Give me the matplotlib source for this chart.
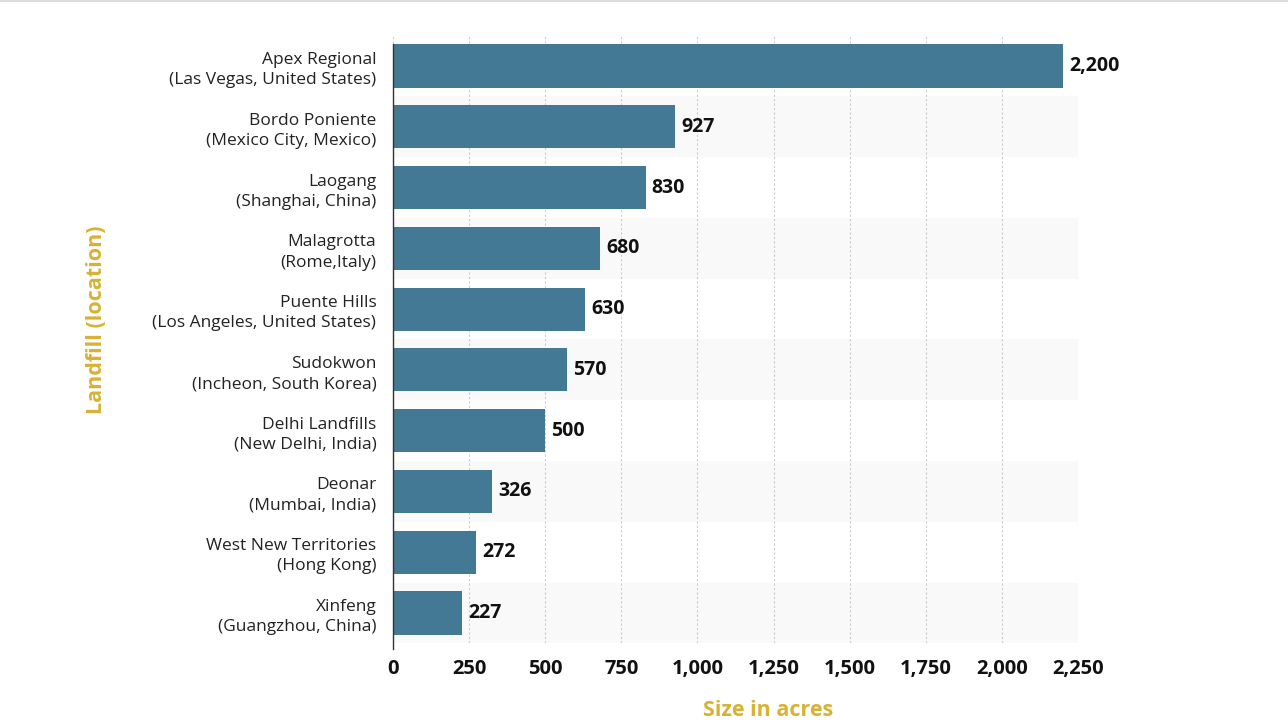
import matplotlib.pyplot as plt
import matplotlib.ticker as ticker
from matplotlib.lines import Line2D

names = ["Apex Regional\n(Las Vegas, United States)",
         "Bordo Poniente\n(Mexico City, Mexico)",
         "Laogang\n(Shanghai, China)",
         "Malagrotta\n(Rome,Italy)",
         "Puente Hills\n(Los Angeles, United States)",
         "Sudokwon\n(Incheon, South Korea)",
         "Delhi Landfills\n(New Delhi, India)",
         "Deonar\n(Mumbai, India)",
         "West New Territories\n(Hong Kong)",
         "Xinfeng\n(Guangzhou, China)"]
acres = [2200, 927, 830, 680, 630, 570, 500, 326, 272, 227]
xticks = [0, 250, 500, 750, 1000, 1250, 1500, 1750, 2000, 2250]

bar_color = '#437994'
gold = '#d8b234'
fam = 'Open Sans'

fig = plt.figure(figsize=(12.88, 7.26), dpi=100)
ax = fig.add_axes([0.3051, 0.1138, 0.8370 - 0.3051, 0.951 - 0.1138])

n = len(names)
pos = list(range(n))

# alternating row bands
for i in pos:
    if i % 2 == 1:
        ax.axhspan(i - 0.5, i + 0.5, color='#f9f9f9', zorder=0, lw=0)

ax.barh(pos, acres, height=0.71, color=bar_color, zorder=3)
for i, v in zip(pos, acres):
    ax.text(v + 20, i, f"{v:,}", va='center', ha='left', fontsize=14,
            fontweight='bold', family=fam, color='#111111', zorder=4)

ax.set_xlim(0, 2250)
ax.set_ylim(n - 0.5, -0.5)
ax.set_yticks(pos)
ax.set_yticklabels(names, fontsize=12.5, family=fam, color='#222222',
                   linespacing=1.35, ha='right')
ax.set_xticks(xticks)
ax.xaxis.set_major_formatter(ticker.FuncFormatter(lambda x, p: f"{int(x):,}"))
for lbl in ax.get_xticklabels():
    lbl.set_fontweight('bold')
    lbl.set_fontsize(14.5)
    lbl.set_family(fam)
    lbl.set_color('#111111')
ax.tick_params(axis='both', length=0)
ax.tick_params(axis='x', pad=11)
ax.tick_params(axis='y', pad=12)

ax.grid(axis='x', linestyle=(0, (2, 2)), color='#cccccc', lw=0.8, zorder=1)
for s in ['top', 'right', 'bottom']:
    ax.spines[s].set_visible(False)
ax.spines['left'].set_color('#333333')
ax.spines['left'].set_linewidth(1.0)
ax.spines['left'].set_bounds(-0.36, n - 0.4)
ax.spines['left'].set_zorder(5)

fig.text(0.5963, 0.022, "Size in acres", ha='center', va='center', fontsize=15.5,
         fontweight='bold', family=fam, color=gold)
fig.text(0.075, 0.56, "Landfill (location)", ha='center', va='center', fontsize=15.5,
         fontweight='bold', family=fam, color=gold, rotation=90)

fig.add_artist(Line2D([0, 1], [0.999, 0.999], color='#dddddd', lw=1.5,
                      transform=fig.transFigure))

fig.savefig('out.png', dpi=100, facecolor='white')
